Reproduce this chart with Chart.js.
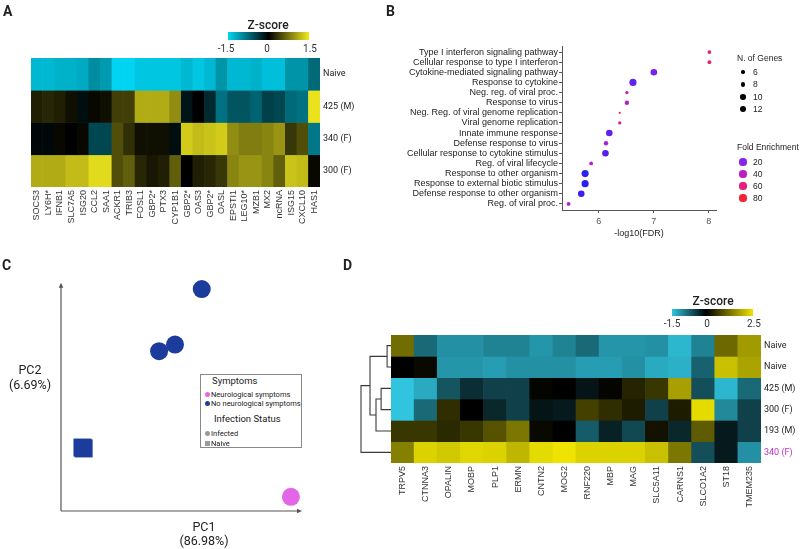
<!DOCTYPE html>
<html>
<head>
<meta charset="utf-8">
<title>Figure</title>
<script src="https://cdn.jsdelivr.net/npm/chart.js@4.4.1/dist/chart.umd.min.js"></script>
<style>
  body { margin: 0; background: #fff; }
  #page { position: relative; width: 800px; height: 549px; overflow: hidden; font-family: Roboto, sans-serif; color: #222; }
  #page canvas { position: absolute; }
  .txt { position: absolute; white-space: nowrap; line-height: 1; }
  .shape { position: absolute; }
</style>
</head>
<body>
<div id="page">
  <canvas id="heatA" width="400" height="270" style="left:0;top:0"></canvas>
  <canvas id="dotB" width="400" height="270" style="left:400px;top:0"></canvas>
  <canvas id="pcaC" width="400" height="279" style="left:0;top:270px"></canvas>
  <canvas id="heatD" width="470" height="279" style="left:330px;top:270px"></canvas>
  <canvas id="treeD" width="36" height="128" style="left:355px;top:335px"></canvas>
</div>
<script>
// A: interferon response genes
const genesA = ['SOCS3', 'LY6H*', 'IFNB1', 'SLC7A5', 'ISG20', 'CCL2', 'SAA1', 'ACKR1', 'TRIB3', 'FOSL1', 'GBP2*', 'PTX3', 'CYP1B1',
  'GBP2*', 'OAS3', 'GBP2*', 'OASL', 'EPSTI1', 'LEG10*', 'MZB1', 'MX2', 'ncRNA', 'ISG15', 'CXCL10', 'HAS1'];
const samplesA = ['Naive', '425 (M)', '340 (F)', '300 (F)'];
const zNaiveA = [-1.3, -1.3, -1.25, -1.25, -1.2, -1.0, -1.1, -1.5, -1.5, -1.4, -1.4, -1.4, -1.4, -1.3, -1.4, -1.3, -1.05, -1.3, -1.3, -1.25, -1.35, -1.35, -1.05, -1.05, -0.75];
const z425A = [0.2, 0.25, 0.2, 0.1, -0.1, 0.05, 0.1, 0.4, 0.4, 1.1, 1.1, 1.1, 0.9, -0.15, 0.0, -0.3, -0.8, -0.6, -0.6, -0.7, -0.45, -0.5, -0.75, -0.8, 1.45];
const z340A = [-0.05, -0.05, 0.05, 0.0, 0.05, -0.5, -0.5, 0.5, 0.3, 0.1, 0.1, 0.1, -0.1, 1.3, 1.2, 1.25, 1.3, 0.9, 0.8, 0.8, 0.85, 0.95, 0.35, 0.5, -0.85];
const z300A = [1.1, 1.1, 1.1, 1.2, 1.2, 1.4, 1.4, 0.5, 0.6, 0.25, 0.15, 0.2, 0.6, 0.0, 0.2, 0.25, 0.35, 0.85, 0.95, 0.95, 0.85, 0.6, 1.25, 1.2, 0.05];

// B: GO enrichment
const termsB = ['Type I interferon signaling pathway', 'Cellular response to type I interferon', 'Cytokine-mediated signaling pathway',
  'Response to cytokine', 'Neg. reg. of viral proc.', 'Response to virus', 'Neg. Reg. of viral genome replication',
  'Viral genome replication', 'Innate immune response', 'Defense response to virus', 'Cellular response to cytokine stimulus',
  'Reg. of viral lifecycle', 'Response to other organism', 'Response to external biotic stimulus',
  'Defense response to other organism', 'Reg. of viral proc.'];
const log10FdrB = [8.01, 8.01, 7.0, 6.62, 6.51, 6.51, 6.38, 6.38, 6.19, 6.13, 6.12, 5.86, 5.75, 5.75, 5.68, 5.45];
const nGenesB = [7, 7, 12, 13, 6, 8, 4, 6, 12, 8, 12, 7, 13, 13, 12, 7];
const foldB = [62, 62, 17, 14, 50, 37, 78, 54, 14, 32, 12, 42, 6, 6, 8, 34];
const genesLegendB = [6, 8, 10, 12];
const foldLegendB = [20, 40, 60, 80];

// C: PCA
const pc1C = [8.9, 9.4, 58.4, 40.7, 47.3, 95.4];
const pc2C = [27.8, 27.4, 97.2, 70.0, 72.9, 6.2];
const statusC = ['Naive', 'Naive', 'Infected', 'Infected', 'Infected', 'Infected'];
const symptomsC = ['none', 'none', 'none', 'none', 'none', 'neuro'];

// D: myelin genes heatmap
const genesD = ['TRPV5', 'CTNNA3', 'OPALIN', 'MOBP', 'PLP1', 'ERMN', 'CNTN2', 'MOG2', 'RNF220', 'MBP', 'MAG', 'SLC5A11', 'CARNS1', 'SLCO1A2', 'ST18', 'TMEM235'];
const samplesD = ['Naive', 'Naive', '425 (M)', '300 (F)', '193 (M)', '340 (F)'];
const zNaive1D = [1.2, -0.8, -1.1, -1.1, -1.0, -1.0, -1.15, -1.0, -0.8, -1.15, -1.15, -1.1, -1.4, -1.0, 1.15, 1.7];
const zNaive2D = [0.0, 0.1, -1.15, -1.15, -1.2, -1.1, -1.1, -1.1, -1.2, -1.2, -1.1, -1.3, -1.35, -0.75, 2.1, 1.8];
const z425D = [-1.5, -1.3, -0.65, -0.35, -0.5, -0.5, 0.05, 0.0, -0.15, 0.05, 0.4, 0.6, 1.75, -0.6, -1.4, -0.8];
const z300D = [-1.5, -0.8, 0.5, 0.0, -0.3, -0.5, -0.15, -0.2, 0.7, 0.5, 0.3, -0.5, 0.3, 2.4, -1.05, -0.5];
const z193D = [0.6, 0.6, 0.45, 0.6, 0.9, 1.3, 0.1, 0.0, -0.7, -0.25, -0.55, 0.2, -0.3, 1.0, -0.2, -0.5];
const z340D = [1.4, 2.3, 2.2, 2.35, 2.3, 2.0, 2.4, 2.5, 2.3, 2.3, 2.3, 2.1, 1.3, -0.6, -0.2, -1.1];
// hclust-style merges: [left node, right node, height]; leaves are 0..5, merged nodes 6..
const treeMergesD = [[0, 1, 1.3], [2, 3, 3.3], [7, 4, 5.0], [6, 8, 7.0], [9, 5, 10.0]];

Chart.defaults.font.family = 'Roboto';
Chart.defaults.color = '#222';

const hexRgb = h => [1, 3, 5].map(i => parseInt(h.slice(i, i + 2), 16));
const rgb = c => `rgb(${c.map(Math.round).join(',')})`;
function colourScale(stops) {
  const s = stops.map(([v, c]) => [v, hexRgb(c)]);
  return v => {
    if (v <= s[0][0]) return rgb(s[0][1]);
    for (let i = 1; i < s.length; i++) {
      if (v <= s[i][0]) {
        const t = (v - s[i - 1][0]) / (s[i][0] - s[i - 1][0]);
        return rgb(s[i - 1][1].map((c, k) => c + (s[i][1][k] - c) * t));
      }
    }
    return rgb(s[s.length - 1][1]);
  };
}
const colourA = colourScale([[-1.5, '#00D4F2'], [0, '#000000'], [1.5, '#F2EA1E']]);
const colourD = colourScale([[-1.5, '#30C4DE'], [0, '#000000'], [2.5, '#EEE400']]);
const foldColour = colourScale([[5, '#2420F0'], [20, '#8A22EE'], [40, '#BC20C4'], [60, '#E4207C'], [80, '#F22436']]);
const genesRadius = n => 1.65 + 0.275 * (n - 6);

const page = document.getElementById('page');
function text(str, x, y, o = {}) {
  const d = document.createElement('div');
  d.className = 'txt';
  d.textContent = str;
  d.style.left = x + 'px';
  d.style.top = y + 'px';
  d.style.fontSize = (o.size || 10) + 'px';
  if (o.weight) d.style.fontWeight = o.weight;
  if (o.family) d.style.fontFamily = o.family;
  if (o.color) d.style.color = o.color;
  const tx = o.align === 'center' ? '-50%' : o.align === 'right' ? '-100%' : '0';
  d.style.transform = `translate(${tx}, -50%)`;
  page.appendChild(d);
}
function shape(x, y, w, h, bg, round) {
  const d = document.createElement('div');
  d.className = 'shape';
  Object.assign(d.style, { left: (x - w / 2) + 'px', top: (y - h / 2) + 'px', width: w + 'px', height: h + 'px', background: bg, borderRadius: round ? '50%' : '0' });
  page.appendChild(d);
  return d;
}

function heatmap(id, genes, rows, names, colour, o) {
  return new Chart(document.getElementById(id), {
    type: 'bar',
    data: {
      labels: genes,
      datasets: rows.map((vals, i) => ({
        data: vals.map(() => [i - 0.5, i + 0.5]),
        backgroundColor: vals.map(colour),
        grouped: false,
        barPercentage: 1,
        categoryPercentage: 1,
        borderWidth: 0
      }))
    },
    options: {
      responsive: false,
      animation: false,
      events: [],
      layout: { padding: { left: o.left, top: o.top, right: 0, bottom: 0 } },
      plugins: { legend: { display: false }, tooltip: { enabled: false } },
      scales: {
        x: {
          grid: { display: false, drawTicks: false },
          border: { display: false },
          ticks: { autoSkip: false, minRotation: 90, maxRotation: 90, padding: 3, color: '#333', font: { family: 'Liberation Sans', size: 9 } },
          afterFit: s => { s.height = o.bottom; }
        },
        y: {
          type: 'linear',
          position: 'right',
          reverse: true,
          min: -0.5,
          max: names.length - 0.5,
          grid: { display: false, drawTicks: false },
          border: { display: false },
          afterBuildTicks: s => { s.ticks = names.map((n, i) => ({ value: i })); },
          ticks: {
            autoSkip: false,
            padding: 3,
            font: { size: 9 },
            callback: v => names[v],
            color: c => (o.highlight === c.index ? '#C02CC8' : '#222')
          },
          afterFit: s => { s.width = o.right; }
        }
      }
    }
  });
}

// ---- A
heatmap('heatA', genesA, [zNaiveA, z425A, z340A, z300A], samplesA, colourA, { left: 31, top: 58, right: 80, bottom: 83 });
text('A', 3, 11, { size: 14, weight: 700 });
text('Z-score', 268, 25, { size: 12, weight: 500, align: 'center' });
shape(268.5, 35.5, 81, 8, 'linear-gradient(to right, #00D4F2, #000 50%, #F2EA1E)');
text('-1.5', 226, 48.5, { size: 10, align: 'center', color: '#333' });
text('0', 267, 48.5, { size: 10, align: 'center', color: '#333' });
text('1.5', 310, 48.5, { size: 10, align: 'center', color: '#333' });

// ---- B
new Chart(document.getElementById('dotB'), {
  type: 'scatter',
  data: {
    datasets: [{
      data: termsB.map((t, i) => ({ x: log10FdrB[i], y: i })),
      pointRadius: nGenesB.map(genesRadius),
      backgroundColor: foldB.map(foldColour),
      borderWidth: 0
    }]
  },
  options: {
    responsive: false,
    animation: false,
    events: [],
    layout: { padding: { left: 0, top: 46, right: 84, bottom: 0 } },
    plugins: { legend: { display: false }, tooltip: { enabled: false } },
    scales: {
      x: {
        min: 5.33,
        max: 8.13,
        afterBuildTicks: s => { s.ticks = [6, 7, 8].map(v => ({ value: v })); },
        grid: { drawOnChartArea: false, tickLength: 3, color: '#555' },
        border: { color: '#555', width: 1 },
        ticks: { padding: 3, color: '#555', font: { family: 'Liberation Sans', size: 9 } },
        afterFit: s => { s.height = 60; }
      },
      y: {
        min: -0.6,
        max: 15.6,
        reverse: true,
        afterBuildTicks: s => { s.ticks = termsB.map((t, i) => ({ value: i })); },
        grid: { drawOnChartArea: false, tickLength: 3, color: '#555' },
        border: { color: '#555', width: 1 },
        ticks: { autoSkip: false, padding: 1, color: '#222', font: { family: 'Liberation Sans', size: 9 }, callback: v => termsB[v] },
        afterFit: s => { s.width = 162; }
      }
    }
  }
});
text('B', 386, 11, { size: 14, weight: 700 });
text('-log10(FDR)', 639, 233, { size: 9, family: 'Liberation Sans', align: 'center' });
text('N. of Genes', 737, 58, { size: 8.5, family: 'Liberation Sans' });
genesLegendB.forEach((n, i) => {
  const y = 72 + i * 12.4;
  const r = genesRadius(n);
  shape(743, y, 2 * r, 2 * r, '#000', true);
  text(String(n), 753, y, { size: 8.5, family: 'Liberation Sans' });
});
text('Fold Enrichment', 737, 147, { size: 8.5, family: 'Liberation Sans' });
foldLegendB.forEach((f, i) => {
  const y = 162 + i * 12;
  shape(743, y, 7.2, 7.2, foldColour(f), true);
  text(String(f), 753, y, { size: 8.5, family: 'Liberation Sans' });
});

// ---- C
const arrowAxes = {
  id: 'arrowAxes',
  beforeDatasetsDraw(chart) {
    const { ctx } = chart;
    const x0 = chart.scales.x.getPixelForValue(0), x1 = chart.scales.x.getPixelForValue(100);
    const y0 = chart.scales.y.getPixelForValue(0), y1 = chart.scales.y.getPixelForValue(100);
    ctx.save();
    ctx.strokeStyle = '#555';
    ctx.fillStyle = '#555';
    ctx.lineWidth = 1.2;
    ctx.beginPath();
    ctx.moveTo(x0, y0); ctx.lineTo(x0, y1 + 3);
    ctx.moveTo(x0, y0); ctx.lineTo(x1 - 3, y0);
    ctx.stroke();
    ctx.beginPath();
    ctx.moveTo(x0, y1); ctx.lineTo(x0 - 2.3, y1 + 5); ctx.lineTo(x0 + 2.3, y1 + 5); ctx.closePath();
    ctx.moveTo(x1, y0); ctx.lineTo(x1 - 5, y0 - 2.3); ctx.lineTo(x1 - 5, y0 + 2.3); ctx.closePath();
    ctx.fill();
    ctx.restore();
  }
};
new Chart(document.getElementById('pcaC'), {
  type: 'scatter',
  data: {
    datasets: [{
      data: pc1C.map((v, i) => ({ x: v, y: pc2C[i] })),
      pointStyle: statusC.map(s => (s === 'Naive' ? 'rect' : 'circle')),
      pointRadius: statusC.map(s => (s === 'Naive' ? 12.7 : 9)),
      backgroundColor: symptomsC.map(s => (s === 'neuro' ? '#E466E8' : '#1B3C9C')),
      borderWidth: 0,
      clip: false
    }]
  },
  options: {
    responsive: false,
    animation: false,
    events: [],
    layout: { padding: { left: 61, top: 12, right: 98, bottom: 38 } },
    plugins: { legend: { display: false }, tooltip: { enabled: false } },
    scales: {
      x: { display: false, min: 0, max: 100 },
      y: { display: false, min: 0, max: 100 }
    }
  },
  plugins: [arrowAxes]
});
text('C', 2, 265, { size: 14, weight: 700 });
text('PC2', 30, 370, { size: 12.5, align: 'center' });
text('(6.69%)', 30, 385, { size: 12.5, align: 'center' });
text('PC1', 204, 527, { size: 12.5, align: 'center' });
text('(86.98%)', 204, 541, { size: 12.5, align: 'center' });
const box = shape(251, 411, 102, 74, '#fff');
box.style.border = '1px solid #888';
box.style.boxSizing = 'border-box';
text('Symptoms', 212, 381, { size: 9.5 });
shape(207, 394, 5, 5, '#E466E8', true);
text('Neurological symptoms', 211, 394.5, { size: 7.5 });
shape(207, 403.5, 5, 5, '#1B3C9C', true);
text('No neurological symptoms', 211, 404, { size: 7.5 });
text('Infection Status', 214, 419, { size: 9.5 });
shape(207, 433, 5, 5, '#9A9A9A', true);
text('Infected', 211, 433.5, { size: 7.5 });
shape(207, 443, 5, 5, '#9A9A9A');
text('Naive', 211, 443.5, { size: 7.5 });

// ---- D
heatmap('heatD', genesD, [zNaive1D, zNaive2D, z425D, z300D, z193D, z340D], samplesD, colourD,
  { left: 61, top: 65, right: 39, bottom: 86, highlight: 5 });
text('D', 343, 265, { size: 14, weight: 700 });
text('Z-score', 713, 300.5, { size: 12, weight: 500, align: 'center' });
shape(712.5, 312.5, 81, 7, 'linear-gradient(to right, #30C4DE, #000 42%, #EEE400)');
text('-1.5', 672, 324, { size: 10, align: 'center', color: '#333' });
text('0', 707, 324, { size: 10, align: 'center', color: '#333' });
text('2.5', 754, 324, { size: 10, align: 'center', color: '#333' });

const nodeY = samplesD.map((s, i) => i);
const nodeH = samplesD.map(() => 0);
const treeLines = treeMergesD.map(([a, b, h]) => {
  nodeY.push((nodeY[a] + nodeY[b]) / 2);
  nodeH.push(h);
  return {
    data: [{ x: nodeH[a], y: nodeY[a] }, { x: h, y: nodeY[a] }, { x: h, y: nodeY[b] }, { x: nodeH[b], y: nodeY[b] }],
    showLine: true,
    pointRadius: 0,
    borderColor: '#3a3a3a',
    borderWidth: 1.1,
    clip: false
  };
});
new Chart(document.getElementById('treeD'), {
  type: 'scatter',
  data: { datasets: treeLines },
  options: {
    responsive: false,
    animation: false,
    events: [],
    plugins: { legend: { display: false }, tooltip: { enabled: false } },
    scales: {
      x: { display: false, min: 0, max: 12, reverse: true },
      y: { display: false, min: -0.5, max: samplesD.length - 0.5, reverse: true }
    }
  }
});
</script>
</body>
</html>
